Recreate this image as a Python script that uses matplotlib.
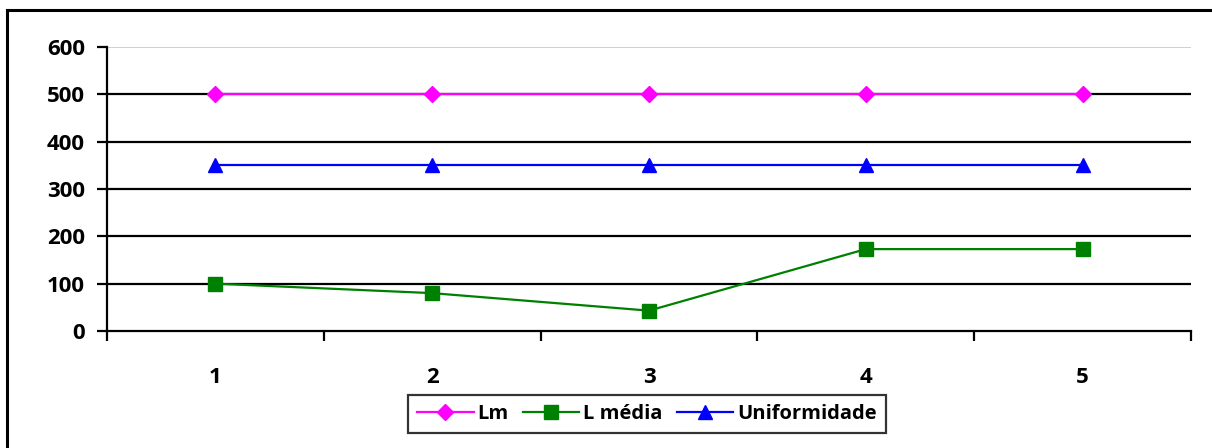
import matplotlib
import numpy as np

matplotlib.use("Agg")
import matplotlib.pyplot as plt
from matplotlib.lines import Line2D

plt.rcParams["font.family"] = ["Open Sans", "DejaVu Sans"]

categories = [1, 2, 3, 4, 5]
lm = [500, 500, 500, 500, 500]
l_media = [100, 80, 43, 173, 173]
uniformidade = [350, 350, 350, 350, 350]
y_ticks = [0, 100, 200, 300, 400, 500, 600]

fig = plt.figure(figsize=(12.12, 4.48), dpi=100)
ax = fig.add_axes([107 / 1212, 1 - 331 / 448, (1191 - 107) / 1212, (331 - 47) / 448])

x = np.arange(len(categories)) + 1

# horizontal gridlines, the topmost one drawn lighter
for v in y_ticks[1:-1]:
    ax.axhline(v, color="black", lw=1.6, zorder=1)
ax.axhline(y_ticks[-1], color="#c8c8c8", lw=1.2, zorder=1)

ax.plot(x, lm, color="#ff00ff", lw=1.6, marker="D", markersize=8, label="Lm", zorder=3)
ax.plot(x, l_media, color="#008000", lw=1.6, marker="s", markersize=10, label="L média", zorder=3)
ax.plot(x, uniformidade, color="#0000ff", lw=1.6, marker="^", markersize=10, label="Uniformidade", zorder=3)

ax.set_xlim(0.5, len(categories) + 0.5)
ax.set_ylim(0, 600)
ax.set_yticks(y_ticks)
ax.set_yticklabels([str(v) for v in y_ticks], fontsize=16, fontweight="bold")
ax.set_xticks(x)
ax.set_xticklabels([str(c) for c in categories], fontsize=16, fontweight="bold")
ax.tick_params(axis="x", length=0, pad=26)
ax.set_xticks(np.arange(len(categories) + 1) + 0.5, minor=True)
ax.tick_params(axis="x", which="minor", length=7, width=1.6, direction="out")
ax.tick_params(axis="y", length=7, width=1.6, direction="out", pad=9)

for side in ["top", "right"]:
    ax.spines[side].set_visible(False)
for side in ["left", "bottom"]:
    ax.spines[side].set_linewidth(1.6)

leg = fig.legend(
    loc="center",
    bbox_to_anchor=(647 / 1212, 1 - 414 / 448),
    ncol=3,
    frameon=True,
    fancybox=False,
    edgecolor="black",
    prop={"size": 14.5, "weight": "bold"},
    handlelength=2.8,
    handletextpad=0.2,
    columnspacing=0.7,
    borderpad=0.45,
)
leg.get_frame().set_linewidth(1.6)

# outer chart frame (top and left edges)
fig.add_artist(Line2D([7 / 1212, 7 / 1212], [0, 1 - 10 / 448], color="black", lw=2.2, transform=fig.transFigure))
fig.add_artist(Line2D([7 / 1212, 1], [1 - 10 / 448, 1 - 10 / 448], color="black", lw=2.2, transform=fig.transFigure))

fig.savefig("out.png", dpi=100)
